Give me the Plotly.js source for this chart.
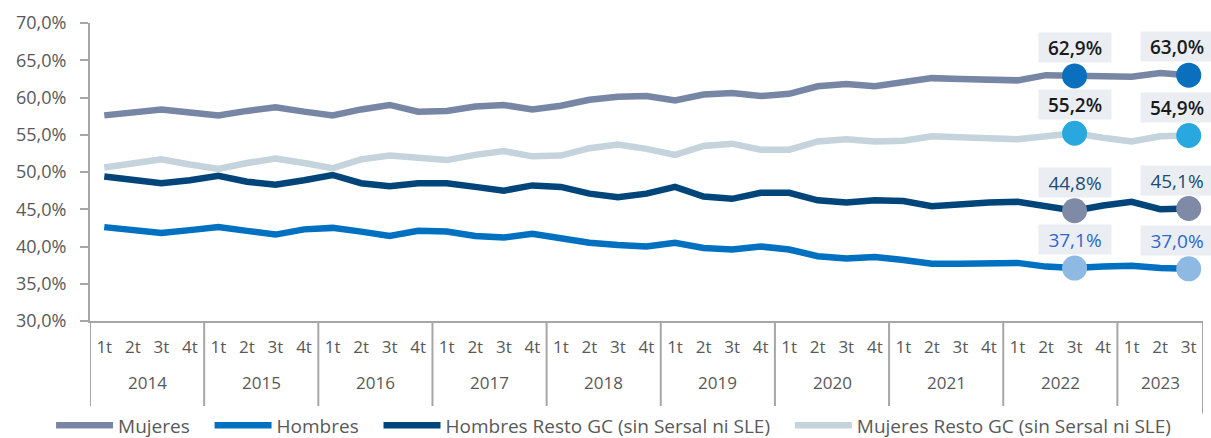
<!DOCTYPE html>
<html>
<head>
<meta charset="utf-8">
<script src="https://cdn.plot.ly/plotly-3.0.1.min.js"></script>
<style>
  html, body { margin: 0; padding: 0; background: #fff; }
  #chart { width: 1211px; height: 438px; }
</style>
</head>
<body>
<div id="chart"></div>
<script>
const years = ['2014', '2015', '2016', '2017', '2018', '2019', '2020', '2021', '2022', '2023'];
const quarters = ['1t', '2t', '3t', '4t'];
const lastYearQuarters = 3;

// % over total, quarterly
const mujeres = [
    57.6, 58.1, 58.4, 58.0,
    57.6, 58.2, 58.7, 58.1,
    57.6, 58.4, 59.0, 58.1,
    58.2, 58.8, 59.0, 58.4,
    58.9, 59.7, 60.1, 60.2,
    59.6, 60.4, 60.6, 60.2,
    60.5, 61.5, 61.8, 61.5,
    62.1, 62.6, 62.5, 62.3,
    62.3, 63.0, 62.9, 62.8,
    62.8, 63.3, 63.0
];
const hombres = [
    42.6, 42.1, 41.8, 42.2,
    42.6, 42.1, 41.6, 42.3,
    42.5, 42.0, 41.4, 42.1,
    42.0, 41.4, 41.2, 41.7,
    41.1, 40.5, 40.2, 40.0,
    40.5, 39.8, 39.6, 40.0,
    39.6, 38.7, 38.4, 38.6,
    38.2, 37.7, 37.7, 37.8,
    37.8, 37.3, 37.1, 37.3,
    37.4, 37.1, 37.0
];
const hombresResto = [
    49.4, 48.9, 48.5, 48.9,
    49.5, 48.7, 48.3, 48.9,
    49.6, 48.5, 48.1, 48.5,
    48.5, 48.0, 47.5, 48.2,
    48.0, 47.1, 46.6, 47.1,
    48.0, 46.7, 46.4, 47.2,
    47.2, 46.2, 45.9, 46.2,
    46.1, 45.4, 45.7, 45.9,
    46.0, 45.3, 44.8, 45.5,
    46.0, 45.0, 45.1
];
const mujeresResto = [
    50.6, 51.2, 51.7, 51.0,
    50.4, 51.2, 51.8, 51.2,
    50.5, 51.7, 52.2, 51.9,
    51.6, 52.3, 52.8, 52.1,
    52.2, 53.2, 53.7, 53.1,
    52.3, 53.5, 53.8, 53.0,
    53.0, 54.1, 54.4, 54.1,
    54.2, 54.8, 54.6, 54.5,
    54.4, 54.8, 55.2, 54.6,
    54.1, 54.8, 54.9
];

// 3t 2022 and 3t 2023 are highlighted
const highlightIdx = [34, 38];

const FONT = 'Open Sans';
const GREY = '#595959';
const AXIS = '#A6A6A6';

const series = [
    { name: 'Mujeres', y: mujeres, line: '#7886A5', dot: '#0A70BD', label: '#1a1a1a', bold: true },
    { name: 'Hombres', y: hombres, line: '#0070C0', dot: '#8DB9E2', label: '#2F66CF', bold: false },
    { name: 'Hombres Resto GC (sin Sersal ni SLE)', y: hombresResto, line: '#00457A', dot: '#7F8AA6', label: '#1D4B72', bold: false },
    { name: 'Mujeres Resto GC (sin Sersal ni SLE)', y: mujeresResto, line: '#C5D3DD', dot: '#29A8E0', label: '#1a1a1a', bold: true }
];

// one slot per quarter, grouped by year
const xQuarter = [], yearStart = [], yearCount = [];
years.forEach((yr, i) => {
    const nq = i === years.length - 1 ? lastYearQuarters : quarters.length;
    yearStart.push(xQuarter.length);
    yearCount.push(nq);
    for (let q = 0; q < nq; q++) xQuarter.push(quarters[q]);
});
const xIdx = xQuarter.map((_, i) => i);
const n = xIdx.length;

const fmt = v => v.toFixed(1).replace('.', ',') + '%';

const traces = [];
const annotations = [];
const shapes = [];

series.forEach(s => {
    traces.push({
        x: xIdx, y: s.y,
        type: 'scatter', mode: 'lines',
        name: s.name + '\u00a0\u00a0\u00a0',
        line: { color: s.line, width: 6.5 },
        hoverinfo: 'skip'
    });
});

series.forEach(s => {
    traces.push({
        x: highlightIdx,
        y: highlightIdx.map(i => s.y[i]),
        type: 'scatter', mode: 'markers',
        showlegend: false,
        marker: { color: s.dot, size: 25 },
        hoverinfo: 'skip'
    });
    highlightIdx.forEach(i => {
        annotations.push({
            x: i, y: s.y[i], xref: 'x', yref: 'y',
            text: fmt(s.y[i]),
            showarrow: false,
            yanchor: 'bottom',
            yshift: 13,
            xshift: i === n - 1 ? -12 : 0,
            width: 68, height: 25,
            bgcolor: 'rgba(228,233,239,0.78)',
            borderpad: 2,
            font: { family: FONT, size: 19, color: s.label, weight: s.bold ? 600 : 400 }
        });
    });
});

// year labels and group dividers under the axis
years.forEach((yr, i) => {
    annotations.push({
        x: yearStart[i] + (yearCount[i] - 1) / 2, y: -0.205,
        xref: 'x', yref: 'paper',
        text: yr, showarrow: false,
        yanchor: 'middle',
        font: { family: FONT, size: 17, color: GREY }
    });
    shapes.push({
        type: 'line', xref: 'x', yref: 'paper',
        x0: yearStart[i] - 0.5, x1: yearStart[i] - 0.5, y0: 0, y1: -0.31,
        line: { color: AXIS, width: 2 }
    });
});
shapes.push({
    type: 'line', xref: 'x', yref: 'paper',
    x0: n - 0.5, x1: n - 0.5, y0: 0, y1: -0.31,
    line: { color: AXIS, width: 2 }
});

const layout = {
    width: 1211, height: 438,
    margin: { l: 90, r: 8, t: 23, b: 117, autoexpand: false },
    paper_bgcolor: '#fff', plot_bgcolor: '#fff',
    separators: ',.',
    font: { family: FONT, color: GREY, size: 16 },
    showlegend: true,
    legend: {
        orientation: 'h',
        x: -0.035, xanchor: 'left',
        y: -0.35, yanchor: 'middle',
        font: { family: FONT, size: 19, color: GREY },
        itemwidth: 57,
        traceorder: 'normal'
    },
    xaxis: {
        range: [-0.5, n - 0.5],
        tickvals: xIdx, ticktext: xQuarter,
        showline: true, linecolor: AXIS, linewidth: 2,
        showgrid: false, zeroline: false,
        ticks: '',
        ticklabelstandoff: 10,
        tickfont: { family: FONT, size: 17, color: GREY }
    },
    yaxis: {
        range: [30, 70], dtick: 5, tickformat: '.1f', ticksuffix: '%',
        showline: true, linecolor: AXIS, linewidth: 2,
        ticks: 'outside', ticklen: 8, tickcolor: AXIS, tickwidth: 2,
        ticklabelstandoff: 10,
        showgrid: false, zeroline: false,
        tickfont: { family: FONT, size: 18, color: GREY }
    },
    shapes: shapes,
    annotations: annotations
};

Plotly.newPlot('chart', traces, layout, { displayModeBar: false, staticPlot: true });
</script>
</body>
</html>
